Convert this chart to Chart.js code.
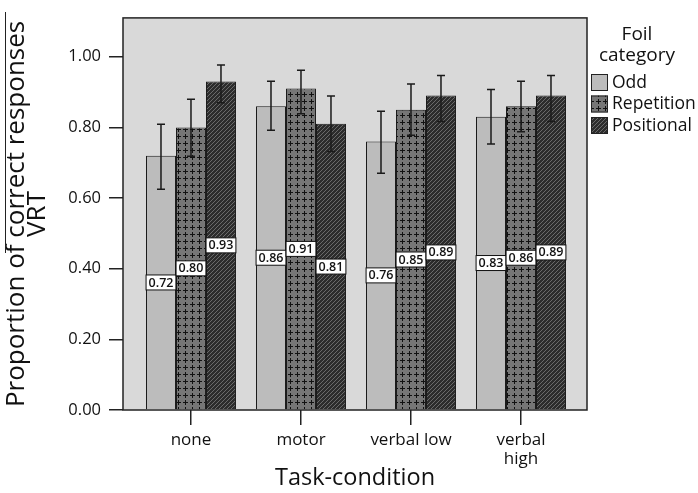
<!DOCTYPE html>
<html>
<head>
<meta charset="utf-8">
<script src="https://cdn.jsdelivr.net/npm/chart.js@4.4.1/dist/chart.umd.min.js"></script>
<style>
  html, body { margin: 0; padding: 0; background: #fff; }
  #wrap { width: 698px; height: 493px; }
</style>
</head>
<body>
<div id="wrap"><canvas id="myChart"></canvas></div>
<script>
// data
const categories = ['none', 'motor', 'verbal low', 'verbal high'];
const seriesNames = ['Odd', 'Repetition', 'Positional'];
const legendTitle = ['Foil', 'category'];

const oddValues = [0.72, 0.86, 0.76, 0.83];
const repetitionValues = [0.80, 0.91, 0.85, 0.86];
const positionalValues = [0.93, 0.81, 0.89, 0.89];

const oddErrLow = [0.625, 0.792, 0.670, 0.753];
const oddErrHigh = [0.809, 0.931, 0.846, 0.907];
const repetitionErrLow = [0.718, 0.839, 0.778, 0.788];
const repetitionErrHigh = [0.880, 0.962, 0.923, 0.931];
const positionalErrLow = [0.870, 0.732, 0.817, 0.817];
const positionalErrHigh = [0.977, 0.889, 0.947, 0.947];

const yTicks = [0, 0.2, 0.4, 0.6, 0.8, 1.0];

const FONT = '"Open Sans", "DejaVu Sans", sans-serif';

function crossPattern() {
    const c = document.createElement('canvas');
    c.width = 7; c.height = 7;
    const g = c.getContext('2d');
    g.fillStyle = '#767676';
    g.fillRect(0, 0, 7, 7);
    g.fillStyle = '#111';
    g.fillRect(3, 1, 1, 5);
    g.fillRect(1, 3, 5, 1);
    return g.createPattern(c, 'repeat');
}

function diagPattern() {
    const c = document.createElement('canvas');
    c.width = 4; c.height = 4;
    const g = c.getContext('2d');
    g.fillStyle = '#2c2c2c';
    g.fillRect(0, 0, 4, 4);
    g.fillStyle = '#6a6a6a';
    for (let i = 0; i < 4; i++) g.fillRect(i, 3 - i, 1, 1);
    return g.createPattern(c, 'repeat');
}

const toPoints = vals => vals.map((v, i) => ({ x: i, y: v }));

const errorRanges = [
    [oddErrLow, oddErrHigh],
    [repetitionErrLow, repetitionErrHigh],
    [positionalErrLow, positionalErrHigh]
];

// grey plot panel with black frame
const framePlugin = {
    id: 'frame',
    beforeDatasetsDraw(chart) {
        const { ctx, chartArea: a } = chart;
        ctx.save();
        ctx.fillStyle = '#d9d9d9';
        ctx.fillRect(a.left, a.top, a.right - a.left, a.bottom - a.top);
        ctx.strokeStyle = '#222';
        ctx.lineWidth = 1.5;
        ctx.strokeRect(a.left, a.top, a.right - a.left, a.bottom - a.top);
        // stray bracket at the left edge of the scan
        ctx.lineWidth = 1;
        ctx.beginPath();
        ctx.moveTo(5.5, 12);
        ctx.lineTo(5.5, 253);
        ctx.stroke();
        ctx.restore();
    }
};

const errorBarPlugin = {
    id: 'errorBars',
    afterDatasetsDraw(chart) {
        const { ctx } = chart;
        const yScale = chart.scales.y;
        ctx.save();
        ctx.strokeStyle = '#1a1a1a';
        ctx.lineWidth = 1.5;
        chart.data.datasets.forEach((ds, d) => {
            const meta = chart.getDatasetMeta(d);
            meta.data.forEach((bar, i) => {
                const lo = yScale.getPixelForValue(errorRanges[d][0][i]);
                const hi = yScale.getPixelForValue(errorRanges[d][1][i]);
                ctx.beginPath();
                ctx.moveTo(bar.x, lo); ctx.lineTo(bar.x, hi);
                ctx.moveTo(bar.x - 4, lo); ctx.lineTo(bar.x + 4, lo);
                ctx.moveTo(bar.x - 4, hi); ctx.lineTo(bar.x + 4, hi);
                ctx.stroke();
            });
        });
        ctx.restore();
    }
};

const valueLabelPlugin = {
    id: 'valueLabels',
    afterDatasetsDraw(chart) {
        const { ctx } = chart;
        ctx.save();
        ctx.font = '600 12.5px ' + FONT;
        ctx.textAlign = 'center';
        ctx.textBaseline = 'middle';
        chart.data.datasets.forEach((ds, d) => {
            const meta = chart.getDatasetMeta(d);
            meta.data.forEach((bar, i) => {
                const txt = ds.data[i].y.toFixed(2);
                const cy = (bar.y + bar.base) / 2;
                const w = ctx.measureText(txt).width + 5;
                const h = 15;
                ctx.fillStyle = '#fff';
                ctx.fillRect(bar.x - w / 2, cy - h / 2, w, h);
                ctx.strokeStyle = '#111';
                ctx.lineWidth = 1;
                ctx.strokeRect(bar.x - w / 2, cy - h / 2, w, h);
                ctx.fillStyle = '#111';
                ctx.fillText(txt, bar.x, cy + 0.5);
            });
        });
        ctx.restore();
    }
};

const legendPlugin = {
    id: 'sideLegend',
    afterDraw(chart) {
        const { ctx, chartArea: a } = chart;
        const x0 = a.right + 4;
        ctx.save();
        ctx.fillStyle = '#111';
        ctx.font = '19px ' + FONT;
        ctx.textAlign = 'center';
        ctx.textBaseline = 'middle';
        legendTitle.forEach((t, i) => ctx.fillText(t, x0 + 46, 35 + i * 21));
        ctx.font = '17.5px ' + FONT;
        ctx.textAlign = 'left';
        chart.data.datasets.forEach((ds, d) => {
            const top = 74 + d * 21.5;
            ctx.fillStyle = ds.backgroundColor;
            ctx.fillRect(x0, top, 17, 17);
            ctx.strokeStyle = '#222';
            ctx.lineWidth = 1;
            ctx.strokeRect(x0 + 0.5, top + 0.5, 16, 16);
            ctx.fillStyle = '#111';
            ctx.fillText(ds.label, x0 + 21, top + 9);
        });
        ctx.restore();
    }
};

const ctx = document.getElementById('myChart');

new Chart(ctx, {
    type: 'bar',
    data: {
        datasets: [
            { label: seriesNames[0], data: toPoints(oddValues), backgroundColor: '#bcbcbc' },
            { label: seriesNames[1], data: toPoints(repetitionValues), backgroundColor: crossPattern() },
            { label: seriesNames[2], data: toPoints(positionalValues), backgroundColor: diagPattern() }
        ]
    },
    options: {
        animation: false,
        responsive: true,
        maintainAspectRatio: false,
        layout: { padding: { top: 13, right: 111, left: 0, bottom: 0 } },
        datasets: {
            bar: {
                borderColor: '#1a1a1a',
                borderWidth: 1,
                barPercentage: 1,
                categoryPercentage: 0.818
            }
        },
        plugins: {
            legend: { display: false },
            tooltip: { enabled: false }
        },
        scales: {
            x: {
                type: 'linear',
                offset: false,
                min: -0.618,
                max: 3.6,
                afterBuildTicks: scale => { scale.ticks = categories.map((c, i) => ({ value: i })); },
                afterFit: scale => { scale.height = 83; },
                grid: { offset: false, drawOnChartArea: false, drawTicks: true, tickLength: 15, color: '#222', lineWidth: 1.5 },
                border: { display: false },
                ticks: {
                    padding: 6,
                    color: '#111',
                    font: { family: FONT, size: 17, lineHeight: 1.1 },
                    maxRotation: 0,
                    autoSkip: false,
                    callback: v => {
                        const name = categories[v];
                        return name === 'verbal high' ? ['verbal', 'high'] : name;
                    }
                },
                title: {
                    display: true,
                    text: 'Task-condition',
                    color: '#111',
                    font: { family: FONT, size: 23.5, lineHeight: 1 },
                    padding: { top: 0, bottom: 3 }
                }
            },
            y: {
                min: 0,
                max: 1.11,
                afterBuildTicks: scale => { scale.ticks = yTicks.map(v => ({ value: v })); },
                afterFit: scale => { scale.width = 123; },
                grid: { drawOnChartArea: false, drawTicks: true, tickLength: 14, color: '#222', lineWidth: 1.5 },
                border: { display: false },
                ticks: {
                    padding: 8,
                    color: '#111',
                    font: { family: FONT, size: 16.5 },
                    callback: v => v.toFixed(2)
                },
                title: {
                    display: true,
                    text: ['Proportion of correct responses', 'VRT'],
                    color: '#111',
                    font: { family: FONT, size: 26, lineHeight: 0.81 },
                    padding: { top: 6.5, bottom: 0 }
                }
            }
        }
    },
    plugins: [framePlugin, errorBarPlugin, valueLabelPlugin, legendPlugin]
});
</script>
</body>
</html>
